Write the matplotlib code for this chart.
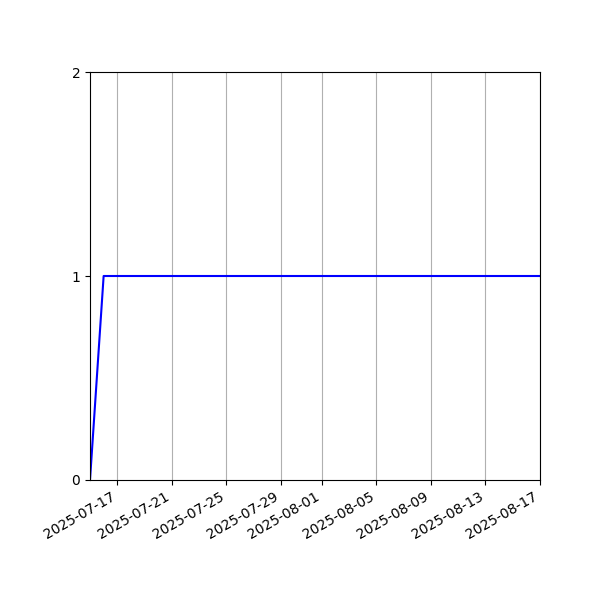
import matplotlib
matplotlib.use('Agg')
import matplotlib.pyplot as plt
import pandas as pd

# daily values, 0 on the first day then 1 every day after
dates = pd.date_range('2025-07-15', '2025-08-17', freq='D')
values = [0] + [1] * (len(dates) - 1)

fig, ax = plt.subplots(figsize=(6, 6), dpi=100)
ax.plot(dates, values, color='blue')
ax.set_xlim(dates[0], dates[-1])
ax.set_ylim(0, 2)
ax.set_yticks([0, 1, 2])
ax.grid(True, axis='x')
fig.autofmt_xdate()
fig.subplots_adjust(left=0.15, right=0.9, top=0.88, bottom=0.2)
fig.savefig('out.png', dpi=100)
